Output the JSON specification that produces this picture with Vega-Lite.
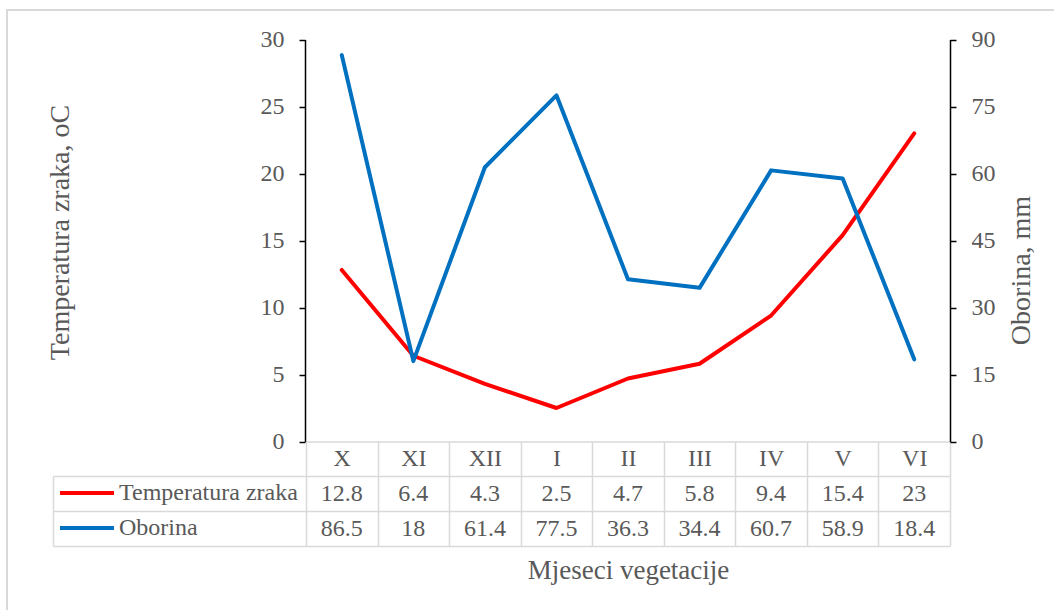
{
  "$schema": "https://vega.github.io/schema/vega-lite/v6.json",
  "width": 1051,
  "height": 604,
  "autosize": "none",
  "padding": {"left": 7, "top": 10, "right": -4, "bottom": -4},
  "background": "white",
  "config": {
    "view": {"stroke": "#d9d9d9", "strokeWidth": 2},
    "font": "Liberation Serif",
    "style": {"guide-label": {"font": "Liberation Serif", "fill": "#595959"}},
    "axis": {"labelFont": "Liberation Serif", "titleFont": "Liberation Serif", "labelColor": "#595959", "titleColor": "#595959", "titleFontWeight": "normal", "labelFontSize": 24, "titleFontSize": 28, "grid": false},
    "legend": {"labelFont": "Liberation Serif", "labelColor": "#595959", "labelFontSize": 24, "labelLimit": 0}
  },
  "data": {
    "values": [
      {"month": "X", "series": "Temperatura zraka", "value": 12.8},
      {"month": "XI", "series": "Temperatura zraka", "value": 6.4},
      {"month": "XII", "series": "Temperatura zraka", "value": 4.3},
      {"month": "I", "series": "Temperatura zraka", "value": 2.5},
      {"month": "II", "series": "Temperatura zraka", "value": 4.7},
      {"month": "III", "series": "Temperatura zraka", "value": 5.8},
      {"month": "IV", "series": "Temperatura zraka", "value": 9.4},
      {"month": "V", "series": "Temperatura zraka", "value": 15.4},
      {"month": "VI", "series": "Temperatura zraka", "value": 23},
      {"month": "X", "series": "Oborina", "value": 86.5},
      {"month": "XI", "series": "Oborina", "value": 18},
      {"month": "XII", "series": "Oborina", "value": 61.4},
      {"month": "I", "series": "Oborina", "value": 77.5},
      {"month": "II", "series": "Oborina", "value": 36.3},
      {"month": "III", "series": "Oborina", "value": 34.4},
      {"month": "IV", "series": "Oborina", "value": 60.7},
      {"month": "V", "series": "Oborina", "value": 58.9},
      {"month": "VI", "series": "Oborina", "value": 18.4}
    ]
  },
  "layer": [
    {
      "transform": [{"filter": "datum.series == 'Temperatura zraka'"}],
      "mark": {"type": "line", "strokeWidth": 4, "strokeCap": "round", "strokeJoin": "round"},
      "encoding": {
        "x": {
          "field": "month", "type": "nominal", "sort": null, "bandPosition": 0.5,
          "scale": {"type": "band", "domain": ["X", "XI", "XII", "I", "II", "III", "IV", "V", "VI"], "range": [299, 943], "paddingInner": 0, "paddingOuter": 0},
          "axis": {
            "orient": "bottom", "offset": -172.5, "title": "Mjeseci vegetacije", "titleFontSize": 27, "titleY": 128.5, "titleBaseline": "middle",
            "domainColor": "#d9d9d9", "domainWidth": 1.5, "tickBand": "extent", "tickSize": 104, "tickColor": "#d9d9d9", "tickWidth": 1.5,
            "labelAngle": 0, "labelBaseline": "middle", "labelPadding": -86.8
          }
        },
        "y": {
          "field": "value", "type": "quantitative",
          "scale": {"domain": [0, 30], "range": [431.5, 29.5], "nice": false, "zero": false},
          "axis": {
            "orient": "left", "offset": -298, "values": [0, 5, 10, 15, 20, 25, 30], "title": "Temperatura zraka, oC",
            "titleX": -245, "titleY": 222, "titleAngle": -90, "titleBaseline": "middle", "titleAlign": "center",
            "domainColor": "#000000", "domainWidth": 1.5, "tickColor": "#000000", "tickWidth": 1.5, "tickSize": 6, "labelPadding": 15
          }
        },
        "color": {
          "field": "series", "type": "nominal",
          "scale": {"domain": ["Temperatura zraka", "Oborina"], "range": ["#ff0000", "#0070c0"]},
          "legend": {
            "orient": "none", "legendX": 51, "legendY": 465.5, "title": null, "symbolType": "stroke", "symbolSize": 2916,
            "symbolStrokeWidth": 4, "labelOffset": 3, "rowPadding": 0, "clipHeight": 35, "padding": 0, "labelBaseline": "middle", "direction": "vertical",
            "labelFont": "Liberation Serif", "labelFontSize": 24, "labelColor": "#595959", "labelLimit": 0,
            "encode": {"labels": {"update": {"font": {"value": "Liberation Serif"}, "fontSize": {"value": 24}, "fill": {"value": "#595959"}}}}
          }
        }
      }
    },
    {
      "transform": [{"filter": "datum.series == 'Oborina'"}],
      "mark": {"type": "line", "strokeWidth": 4, "strokeCap": "round", "strokeJoin": "round"},
      "encoding": {
        "x": {
          "field": "month", "type": "nominal", "sort": null, "bandPosition": 0.5,
          "scale": {"type": "band", "domain": ["X", "XI", "XII", "I", "II", "III", "IV", "V", "VI"], "range": [299, 943], "paddingInner": 0, "paddingOuter": 0}
        },
        "y": {
          "field": "value", "type": "quantitative",
          "scale": {"domain": [0, 90], "range": [431.5, 29.5], "nice": false, "zero": false},
          "axis": {
            "orient": "right", "offset": -108, "values": [0, 15, 30, 45, 60, 75, 90], "title": "Oborina, mm",
            "titleX": 71, "titleY": 260, "titleAngle": -90, "titleBaseline": "middle", "titleAlign": "center",
            "domainColor": "#000000", "domainWidth": 1.5, "tickColor": "#000000", "tickWidth": 1.5, "tickSize": 6, "labelPadding": 15
          }
        },
        "color": {
          "field": "series", "type": "nominal",
          "scale": {"domain": ["Temperatura zraka", "Oborina"], "range": ["#ff0000", "#0070c0"]}
        }
      }
    },
    {
      "mark": {"type": "text", "font": "Liberation Serif", "fontSize": 24, "color": "#595959", "baseline": "middle", "align": "center"},
      "encoding": {
        "x": {
          "field": "month", "type": "nominal", "sort": null, "bandPosition": 0.5,
          "scale": {"type": "band", "domain": ["X", "XI", "XII", "I", "II", "III", "IV", "V", "VI"], "range": [299, 943], "paddingInner": 0, "paddingOuter": 0}
        },
        "y": {
          "field": "series", "type": "nominal", "bandPosition": 0.5,
          "scale": {"type": "band", "domain": ["Temperatura zraka", "Oborina"], "range": [466, 536], "paddingInner": 0, "paddingOuter": 0},
          "axis": {
            "orient": "left", "offset": -46, "title": null, "labels": false,
            "domainColor": "#d9d9d9", "domainWidth": 1.5, "tickBand": "extent", "tickSize": -897, "tickColor": "#d9d9d9", "tickWidth": 1.5
          }
        },
        "text": {"field": "value", "type": "quantitative"}
      }
    }
  ],
  "resolve": {"scale": {"y": "independent"}}
}
